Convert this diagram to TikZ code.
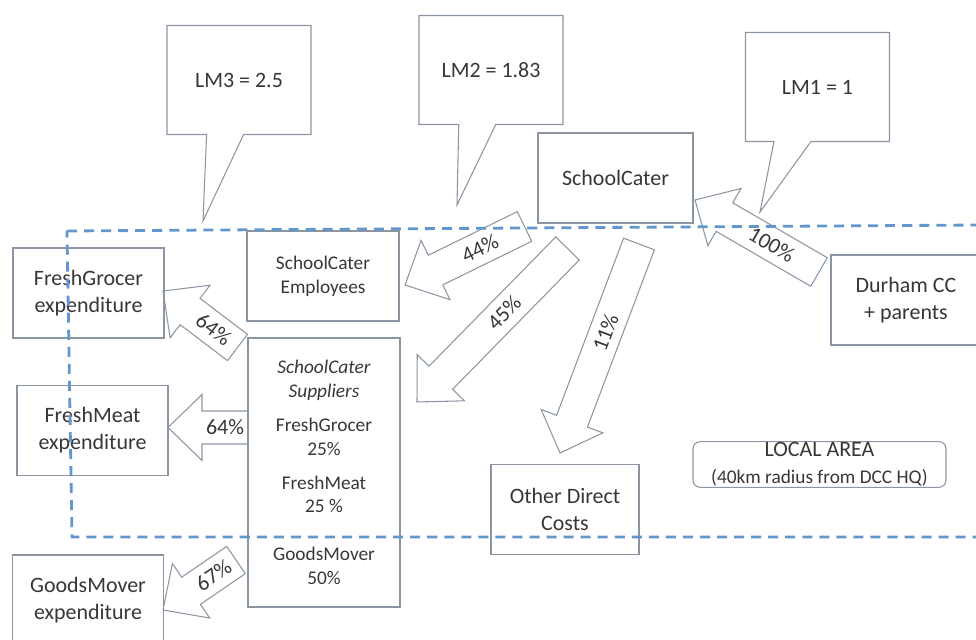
\documentclass[tikz,border=0pt]{standalone}
\usepackage{fontspec}
\setmainfont{Carlito}
\usepackage{xcolor}
\usetikzlibrary{shapes.callouts,calc}

\definecolor{boxgray}{RGB}{140,150,162}
\definecolor{areablue}{RGB}{98,150,205}
\definecolor{txtgray}{RGB}{55,55,55}

\newcommand{\labfont}{\fontsize{12.5}{15.3}\selectfont}
\newcommand{\subfont}{\fontsize{11}{13.6}\selectfont}

% block arrow: tail, tip, label
\newcommand{\flowarrow}[3]{%
  \coordinate (hb) at ($(#2)!0.68cm!(#1)$);
  \draw[flow] ($(#1)!0.33cm!90:(#2)$) -- ($(hb)!0.33cm!90:(#2)$) -- ($(hb)!0.66cm!90:(#2)$)
    -- (#2) -- ($(hb)!0.66cm!-90:(#2)$) -- ($(hb)!0.33cm!-90:(#2)$) -- ($(#1)!0.33cm!-90:(#2)$) -- cycle;
  \path (#1) -- (hb) node[midway, sloped, font=\labfont, text=txtgray] {#3};
}

\begin{document}
\begin{tikzpicture}[
    box/.style={draw=boxgray, line width=0.6pt, minimum width=3.02cm, minimum height=1.8cm,
      align=center, font=\labfont, text=txtgray},
    callbox/.style={rectangle callout, draw=boxgray, line width=0.6pt, minimum width=2.88cm,
      minimum height=2.18cm, callout pointer width=0.74cm, font=\labfont, text=txtgray},
    flow/.style={draw=boxgray, line width=0.6pt, line join=miter},
    arealine/.style={draw=areablue, line width=1.6pt, dash pattern=on 5.7pt off 4pt}
  ]
  \useasboundingbox (0,0) rectangle (19.52,12.8);

  % multiplier call-outs
  \coordinate (lm3tip) at (4.06,8.38);
  \coordinate (lm2tip) at (9.14,8.7);
  \coordinate (lm1tip) at (15.2,8.56);
  \node[callbox, callout absolute pointer={(lm3tip)}] (lm3) at (4.78,11.2) {LM3 = 2.5};
  \node[callbox, callout absolute pointer={(lm2tip)}] (lm2) at (9.82,11.4) {LM2 = 1.83};
  \node[callbox, callout absolute pointer={(lm1tip)}] (lm1) at (16.35,11.06) {LM1 = 1};

  % boxes
  \node[box, minimum width=3.1cm] (cater) at (12.31,9.24) {SchoolCater};
  \node[box, minimum width=3.0cm] (durham) at (18.12,6.8) {Durham CC\\+ parents};
  \node[box, font=\subfont, minimum width=3.04cm] (staff) at (6.46,7.28) {SchoolCater\\Employees};
  \node[box, font=\subfont, minimum width=3.04cm, minimum height=5.38cm] (suppliers) at (6.48,3.35)
    {\textit{SchoolCater}\\\textit{Suppliers}\\[0.2cm]FreshGrocer\\25\%\\[0.2cm]FreshMeat\\25 \%\\[0.48cm]GoodsMover\\50\%};
  \node[box] (grocer) at (1.77,6.94) {FreshGrocer\\expenditure};
  \node[box] (meat) at (1.85,4.19) {FreshMeat\\expenditure};
  \node[box] (mover) at (1.76,0.8) {GoodsMover\\expenditure};
  \node[box, minimum width=2.96cm] (other) at (11.3,2.61) {Other Direct\\Costs};
  \node[box, rounded corners=4pt, minimum width=5.06cm, minimum height=0.9cm, inner sep=0.5pt]
    (area) at (16.39,3.51) {LOCAL AREA\\{\subfont (40km radius from DCC HQ)}};

  % money flows
  \coordinate (durhamOut) at (16.38,7.36); \coordinate (caterIn) at (13.9,8.8);
  \coordinate (staffOut) at (10.49,8.27);  \coordinate (staffIn) at (8.1,7.1);
  \coordinate (supOut) at (11.35,7.83);    \coordinate (supIn) at (8.34,4.76);
  \coordinate (otherOut) at (12.78,7.92);  \coordinate (otherIn) at (11.2,3.74);
  \coordinate (grocerOut) at (4.75,5.85);  \coordinate (grocerIn) at (3.26,6.98);
  \coordinate (meatOut) at (4.96,4.25);    \coordinate (meatIn) at (3.36,4.25);
  \coordinate (moverOut) at (4.72,1.6);    \coordinate (moverIn) at (3.26,0.6);
  \flowarrow{durhamOut}{caterIn}{100\%}
  \flowarrow{staffOut}{staffIn}{44\%}
  \flowarrow{supOut}{supIn}{45\%}
  \flowarrow{otherOut}{otherIn}{11\%}
  \flowarrow{grocerOut}{grocerIn}{64\%}
  \flowarrow{meatOut}{meatIn}{64\%}
  \flowarrow{moverOut}{moverIn}{67\%}

  % local area boundary
  \draw[arealine] (1.34,8.18) -- (19.65,8.3) -- (19.65,2.06) -- (1.44,2.06) -- cycle;
\end{tikzpicture}
\end{document}
